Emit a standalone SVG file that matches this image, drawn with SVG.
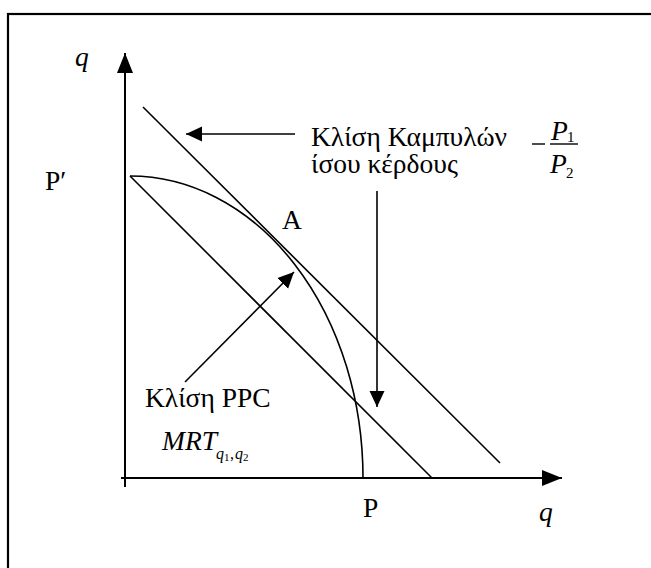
<svg xmlns="http://www.w3.org/2000/svg" width="651" height="568" viewBox="0 0 651 568">
<style>
  .ln { stroke: #000; stroke-width: 1.6; fill: none; }
  .ax { stroke: #000; stroke-width: 2; fill: none; }
  .i { font-style: italic; }
  .sub { font-size: 16px; }
  .ss { font-size: 11px; }
  .dg { font-size: 15px; }
</style>
<defs>
  <marker id="ah" markerUnits="userSpaceOnUse" markerWidth="20" markerHeight="20" viewBox="0 0 20 16" refX="20" refY="8" orient="auto">
    <path d="M0,0 L20,8 L0,16 Z" fill="#000"/>
  </marker>
  <marker id="ahs" markerUnits="userSpaceOnUse" markerWidth="16" markerHeight="16" viewBox="0 0 16 15" refX="16" refY="7.5" orient="auto">
    <path d="M0,0 L16,7.5 L0,15 Z" fill="#000"/>
  </marker>
</defs>
<rect x="8" y="14" width="660" height="600" fill="#fff" stroke="#000" stroke-width="2.2"/>
<g id="connectors">
  <line id="axis-y" class="ax" x1="125" y1="487" x2="125" y2="53" marker-end="url(#ah)"/>
  <line id="axis-x" class="ax" x1="121" y1="478" x2="562" y2="478" marker-end="url(#ah)"/>
  <line id="iso-profit" class="ln" x1="143" y1="107" x2="500" y2="463"/>
  <line id="budget-inner" class="ln" x1="130" y1="176" x2="432" y2="478"/>
  <path id="ppc" class="ln" d="M130,176 A233,302 0 0 1 363,478"/>
  <line id="arrow-left" class="ln" x1="295" y1="134" x2="186" y2="134" marker-end="url(#ahs)"/>
  <line id="arrow-down" class="ln" x1="377" y1="191" x2="377" y2="407" marker-end="url(#ahs)"/>
  <line id="arrow-diag" class="ln" x1="185" y1="382" x2="294" y2="272" marker-end="url(#ahs)"/>
</g>
<g id="labels" font-family="Liberation Serif, Times New Roman, serif" font-size="27.5" fill="#000">
<g id="label-q-top"><text class="i" x="75" y="66">q</text></g>
<g id="label-Pprime"><text x="45" y="190">P′</text></g>
<g id="label-A"><text x="282" y="229">A</text></g>
<g id="label-slope-iso">
  <text x="311" y="146">Κλίση Καμπυλών</text>
  <text x="311" y="173">ίσου κέρδους</text>
</g>
<g id="label-fraction">
  <line x1="532" y1="144" x2="545" y2="144" stroke="#000" stroke-width="1.4"/>
  <line x1="550" y1="144" x2="578" y2="144" stroke="#000" stroke-width="1.4"/>
  <text class="i" x="551" y="140">P</text>
  <text class="dg" x="567" y="142">1</text>
  <text class="i" x="550" y="173">P</text>
  <text class="dg" x="566" y="178">2</text>
</g>
<g id="label-slope-ppc"><text x="145" y="407">Κλίση PPC</text></g>
<g id="label-mrt">
  <text class="i" x="162" y="450">MRT</text>
  <text class="i sub" x="216" y="459">q</text>
  <text class="ss" x="224" y="461">1</text>
  <text class="sub" x="230" y="459">,</text>
  <text class="i sub" x="235" y="459">q</text>
  <text class="ss" x="243" y="461">2</text>
</g>
<g id="label-P"><text x="363" y="517">P</text></g>
<g id="label-q-bottom"><text class="i" x="539" y="521">q</text></g>
</g>
</svg>
